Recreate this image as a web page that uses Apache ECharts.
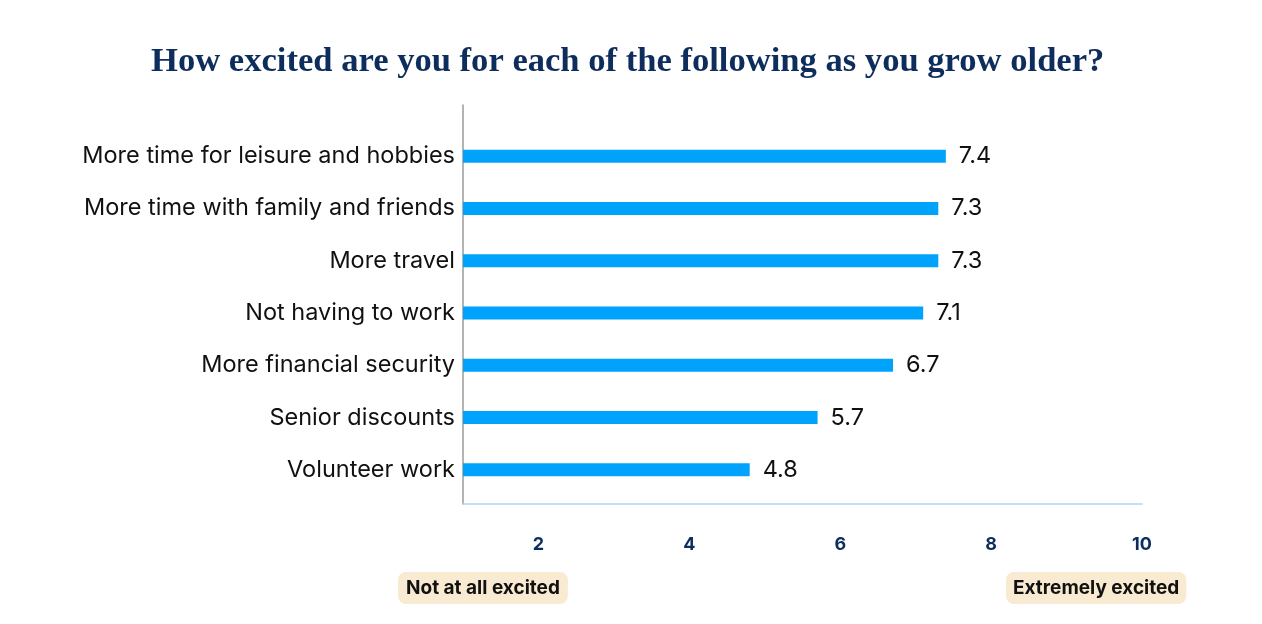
<!DOCTYPE html>
<html>
<head>
<meta charset="utf-8">
<script src="https://cdn.jsdelivr.net/npm/echarts@6/dist/echarts.min.js"></script>
<style>
html,body{margin:0;padding:0;background:#fff;}
#chart{width:1262px;height:624px;}
</style>
</head>
<body>
<div id="chart"></div>
<script>
const titleText = 'How excited are you for each of the following as you grow older?';
const categories = [
  'More time for leisure and hobbies',
  'More time with family and friends',
  'More travel',
  'Not having to work',
  'More financial security',
  'Senior discounts',
  'Volunteer work'
];
const values = [7.4, 7.3, 7.3, 7.1, 6.7, 5.7, 4.8];
const axisMin = 1;
const axisMax = 10;
const lowLabel = 'Not at all excited';
const highLabel = 'Extremely excited';

const chart = echarts.init(document.getElementById('chart'));
const navy = '#0d2d5c';
chart.setOption({
  animation: false,
  backgroundColor: '#fff',
  title: [
    {
      text: titleText, left: 146, top: 40,
      textStyle: {fontFamily: 'Liberation Serif', fontWeight: 'bold', fontSize: 34.6, color: navy}
    },
    {
      text: lowLabel, left: 398, top: 572,
      backgroundColor: '#f8ebd2', borderRadius: 8, padding: [6, 8, 6, 8],
      textStyle: {fontFamily: 'Inter', fontWeight: 'bold', fontSize: 19, color: '#111', lineHeight: 20}
    },
    {
      text: highLabel, left: 1006, top: 572,
      backgroundColor: '#f8ebd2', borderRadius: 8, padding: [6, 7, 6, 7],
      textStyle: {fontFamily: 'Inter', fontWeight: 'bold', fontSize: 19, color: '#111', lineHeight: 20}
    }
  ],
  grid: [
    {left: 463, right: 120, top: 105, bottom: 120, containLabel: false},
    {left: 463, right: 120, top: 130, bottom: 128, containLabel: false}
  ],
  xAxis: [
    {
      gridIndex: 0, type: 'value', min: axisMin, max: axisMax, interval: 1,
      axisLine: {show: true, lineStyle: {color: '#b5d3fa', width: 1.5}},
      axisTick: {show: false}, splitLine: {show: false},
      axisLabel: {
        margin: 32, fontFamily: 'Inter', fontWeight: 'bold', fontSize: 18, color: navy,
        formatter: v => (v % 2 === 0 ? String(v) : '')
      }
    },
    {
      gridIndex: 1, type: 'value', min: axisMin, max: axisMax, show: false
    }
  ],
  yAxis: [
    {
      gridIndex: 0, type: 'value', min: 0, max: 1,
      axisLine: {show: true, lineStyle: {color: '#9a9a9a', width: 1.5}},
      axisTick: {show: false}, axisLabel: {show: false}, splitLine: {show: false}
    },
    {
      gridIndex: 1, type: 'category', data: categories, inverse: true,
      axisLine: {show: false}, axisTick: {show: false}, splitLine: {show: false},
      axisLabel: {margin: 8, fontFamily: 'Inter', fontSize: 23.5, color: '#111'}
    }
  ],
  series: [{
    type: 'bar', xAxisIndex: 1, yAxisIndex: 1, data: values, barWidth: 13,
    itemStyle: {color: '#00a3fc'},
    label: {show: true, position: 'right', distance: 13, fontFamily: 'Inter', fontSize: 23.5, color: '#111',
      formatter: p => p.value.toFixed(1)}
  }]
});
</script>
</body>
</html>
